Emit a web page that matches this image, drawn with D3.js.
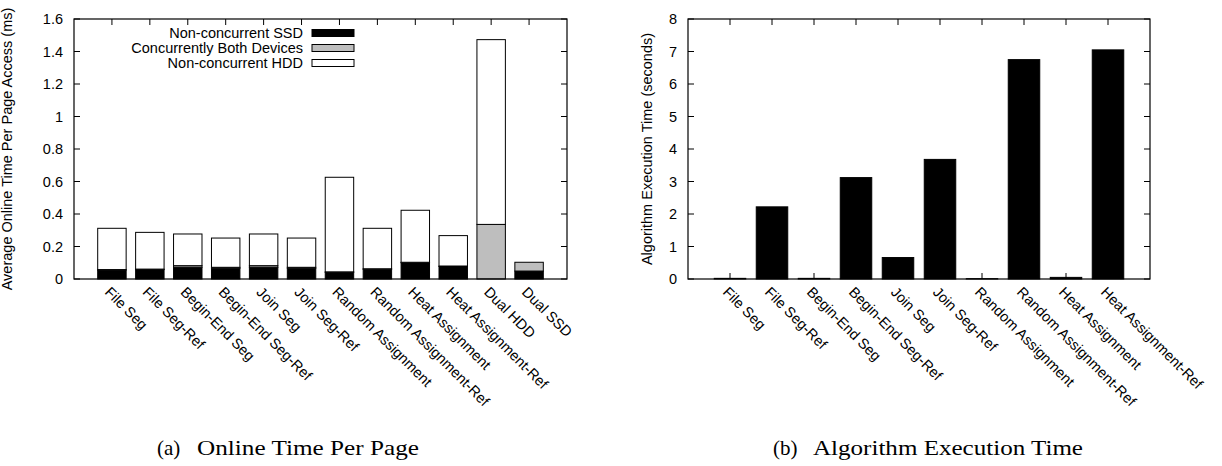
<!DOCTYPE html>
<html lang="en">
<head>
    <meta charset="UTF-8">
    <title>Online Time Per Page / Algorithm Execution Time</title>
    <script src="https://d3js.org/d3.v7.min.js"></script>
    <style>
        body { margin: 0; background: #fff; }
        text { font-family: "Liberation Sans", Arial, sans-serif; font-size: 14.5px; fill: #000; }
        .caption { font-family: "Liberation Serif", "Times New Roman", serif; font-size: 21px; }
    </style>
</head>
<body>
    <svg id="chart"></svg>

    <script>
        // (a) stacked bars
        const placementsA = ["File Seg", "File Seg-Ref", "Begin-End Seg", "Begin-End Seg-Ref", "Join Seg", "Join Seg-Ref",
                             "Random Assignment", "Random Assignment-Ref", "Heat Assignment", "Heat Assignment-Ref", "Dual HDD", "Dual SSD"];
        const ssdOnly  = [0.055, 0.058, 0.072, 0.066, 0.072, 0.066, 0.041, 0.060, 0.100, 0.077, 0, 0.049];
        const bothDev  = [0.003, 0.003, 0.010, 0.006, 0.010, 0.006, 0.003, 0.003, 0.003, 0.003, 0.336, 0.054];
        const hddOnly  = [0.254, 0.226, 0.195, 0.180, 0.195, 0.180, 0.582, 0.249, 0.320, 0.187, 1.137, 0];
        const seriesA  = ["Non-concurrent SSD", "Concurrently Both Devices", "Non-concurrent HDD"];
        const ticksA   = [0, 0.2, 0.4, 0.6, 0.8, 1, 1.2, 1.4, 1.6];

        // (b) plain bars
        const placementsB = placementsA.slice(0, 10);
        const execSeconds = [0.02, 2.22, 0.02, 3.12, 0.66, 3.68, 0.01, 6.75, 0.05, 7.05];
        const ticksB = [0, 1, 2, 3, 4, 5, 6, 7, 8];

        const captions = [["(a)", "Online Time Per Page"], ["(b)", "Algorithm Execution Time"]];

        const width = 1222, height = 466;
        const svg = d3.select("#chart").attr("width", width).attr("height", height);

        const fills = ["#000000", "#bebebe", "#ffffff"];
        const plotTop = 19, plotBottom = 279, tickLen = 6;

        function panel(cfg) {
            const g = svg.append("g");
            const x = d3.scaleLinear().domain([-1, cfg.cats.length]).range([cfg.left, cfg.right]);
            const y = d3.scaleLinear().domain([0, cfg.ymax]).range([plotBottom, plotTop]);
            const bw = x(0.75) - x(0);

            // bottom ticks sit under the bars
            cfg.cats.forEach((c, i) => {
                g.append("line").attr("x1", x(i)).attr("x2", x(i))
                    .attr("y1", plotBottom).attr("y2", plotBottom - tickLen).attr("stroke", "#000");
            });

            cfg.drawBars(g, x, y, bw);

            // y ticks, inward on both sides
            cfg.yticks.forEach(t => {
                g.append("line").attr("x1", cfg.left).attr("x2", cfg.left + tickLen)
                    .attr("y1", y(t)).attr("y2", y(t)).attr("stroke", "#000");
                g.append("line").attr("x1", cfg.right).attr("x2", cfg.right - tickLen)
                    .attr("y1", y(t)).attr("y2", y(t)).attr("stroke", "#000");
                g.append("text").attr("x", cfg.left - 11).attr("y", y(t) + 5)
                    .attr("text-anchor", "end").text(t);
            });

            cfg.cats.forEach((c, i) => {
                g.append("line").attr("x1", x(i)).attr("x2", x(i))
                    .attr("y1", plotTop).attr("y2", plotTop + tickLen).attr("stroke", "#000");
                g.append("text")
                    .attr("transform", `translate(${x(i) - 8},${plotBottom + 14}) rotate(45)`)
                    .text(c);
            });

            // frame
            g.append("rect").attr("x", cfg.left).attr("y", plotTop)
                .attr("width", cfg.right - cfg.left).attr("height", plotBottom - plotTop)
                .attr("fill", "none").attr("stroke", "#000").attr("stroke-width", 1.2);

            g.append("text")
                .attr("transform", `translate(${cfg.titleX},${(plotTop + plotBottom) / 2}) rotate(-90)`)
                .attr("text-anchor", "middle").text(cfg.title);

            const cap = captions[cfg.idx];
            svg.append("text").attr("class", "caption").attr("x", cfg.capX).attr("y", 455).text(cap[0]);
            svg.append("text").attr("class", "caption").attr("x", cfg.capX + 40).attr("y", 455)
                .attr("textLength", cfg.capW).attr("lengthAdjust", "spacingAndGlyphs").text(cap[1]);
        }

        panel({
            idx: 0, cats: placementsA, left: 74, right: 567, ymax: 1.6, yticks: ticksA, titleX: 12,
            title: "Average Online Time Per Page Access (ms)", capX: 157, capW: 222,
            drawBars: (g, x, y, bw) => {
                const rows = placementsA.map((c, i) => ({ c, i, v: [ssdOnly[i], bothDev[i], hddOnly[i]] }));
                const stack = d3.stack().keys([0, 1, 2]).value((d, k) => d.v[k])(rows);
                stack.forEach((layer, k) => {
                    g.selectAll(null).data(layer.filter(d => d[1] > d[0])).enter().append("rect")
                        .attr("x", d => x(d.data.i) - bw / 2)
                        .attr("y", d => y(d[1]))
                        .attr("width", bw)
                        .attr("height", d => y(d[0]) - y(d[1]))
                        .attr("fill", fills[k])
                        .attr("stroke", "#000").attr("stroke-width", 1);
                });
            }
        });

        // legend for (a)
        const legend = svg.append("g");
        seriesA.forEach((s, k) => {
            const cy = 33 + k * 15;
            legend.append("text").attr("x", 303).attr("y", cy + 5).attr("text-anchor", "end").text(s);
            legend.append("rect").attr("x", 312).attr("y", cy - 3.5).attr("width", 42).attr("height", 7)
                .attr("fill", fills[k]).attr("stroke", "#000").attr("stroke-width", 1);
        });

        panel({
            idx: 1, cats: placementsB, left: 688, right: 1150, ymax: 8, yticks: ticksB, titleX: 652,
            title: "Algorithm Execution Time (seconds)", capX: 773, capW: 270,
            drawBars: (g, x, y, bw) => {
                g.selectAll(null).data(execSeconds).enter().append("rect")
                    .attr("x", (d, i) => x(i) - bw / 2)
                    .attr("y", d => y(d))
                    .attr("width", bw)
                    .attr("height", d => y(0) - y(d))
                    .attr("fill", "#000").attr("stroke", "#000").attr("stroke-width", 1);
            }
        });
    </script>
</body>
</html>
